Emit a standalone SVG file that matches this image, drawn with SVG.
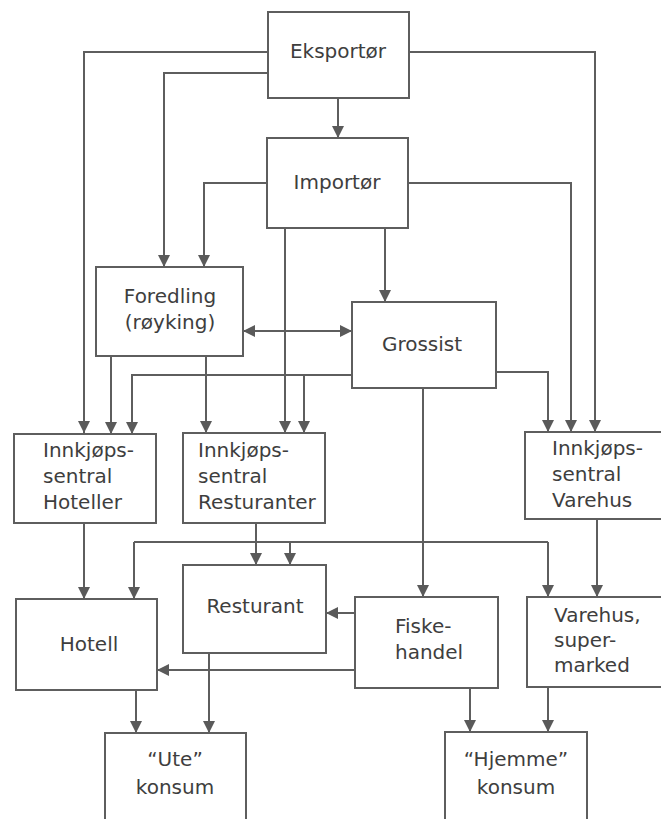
<svg xmlns="http://www.w3.org/2000/svg" width="661" height="819" viewBox="0 0 661 819">
<defs>
<style>
.box{fill:#fff;stroke:#5e5e5e;stroke-width:2}
.ln{fill:none;stroke:#5e5e5e;stroke-width:2}
.t{font-family:"DejaVu Sans",sans-serif;font-size:20px;fill:#3e3e3e}
.c{text-anchor:middle}
</style>
<marker id="ah" viewBox="0 0 12 12" refX="12" refY="6" markerWidth="12" markerHeight="12" markerUnits="userSpaceOnUse" orient="auto">
<path d="M0,0 L12,6 L0,12 z" fill="#5a5a5a"/>
</marker>
<marker id="as" viewBox="0 0 12 12" refX="0" refY="6" markerWidth="12" markerHeight="12" markerUnits="userSpaceOnUse" orient="auto">
<path d="M12,0 L0,6 L12,12 z" fill="#5a5a5a"/>
</marker>
</defs>
<rect width="661" height="819" fill="#fff"/>
<g id="connectors">
<path class="ln" d="M268,52 H84 V433" marker-end="url(#ah)"/>
<path class="ln" d="M268,73 H164 V267" marker-end="url(#ah)"/>
<path class="ln" d="M408,52 H595 V432" marker-end="url(#ah)"/>
<path class="ln" d="M338,98 V138" marker-end="url(#ah)"/>
<path class="ln" d="M267,183 H204 V267" marker-end="url(#ah)"/>
<path class="ln" d="M408,183 H571 V432" marker-end="url(#ah)"/>
<path class="ln" d="M285,228 V433" marker-end="url(#ah)"/>
<path class="ln" d="M385,228 V302" marker-end="url(#ah)"/>
<path class="ln" d="M243,331 H352" marker-start="url(#as)" marker-end="url(#ah)"/>
<path class="ln" d="M111,356 V434" marker-end="url(#ah)"/>
<path class="ln" d="M206,356 V433" marker-end="url(#ah)"/>
<path class="ln" d="M352,375 H132 V434" marker-end="url(#ah)"/>
<path class="ln" d="M304,375 V433" marker-end="url(#ah)"/>
<path class="ln" d="M496,372 H548 V432" marker-end="url(#ah)"/>
<path class="ln" d="M423,388 V597" marker-end="url(#ah)"/>
<path class="ln" d="M134,542 H548"/>
<path class="ln" d="M134,542 V599" marker-end="url(#ah)"/>
<path class="ln" d="M290,542 V565" marker-end="url(#ah)"/>
<path class="ln" d="M548,542 V597" marker-end="url(#ah)"/>
<path class="ln" d="M84,523 V599" marker-end="url(#ah)"/>
<path class="ln" d="M256,523 V565" marker-end="url(#ah)"/>
<path class="ln" d="M597,519 V597" marker-end="url(#ah)"/>
<path class="ln" d="M355,613 H326" marker-end="url(#ah)"/>
<path class="ln" d="M355,670 H157" marker-end="url(#ah)"/>
<path class="ln" d="M136,690 V733" marker-end="url(#ah)"/>
<path class="ln" d="M209,653 V733" marker-end="url(#ah)"/>
<path class="ln" d="M470,688 V732" marker-end="url(#ah)"/>
<path class="ln" d="M548,687 V732" marker-end="url(#ah)"/>
</g>
<g id="eksportor"><rect class="box" x="268" y="12" width="141" height="86"/><text class="t c" x="338" y="58">Eksportør</text></g>
<g id="importor"><rect class="box" x="267" y="138" width="141" height="90"/><text class="t c" x="337" y="189">Importør</text></g>
<g id="foredling"><rect class="box" x="96" y="267" width="147" height="89"/><text class="t c" x="170" y="303">Foredling</text><text class="t c" x="170" y="329">(røyking)</text></g>
<g id="grossist"><rect class="box" x="352" y="302" width="144" height="86"/><text class="t c" x="422" y="351">Grossist</text></g>
<g id="ik-hoteller"><rect class="box" x="14" y="434" width="142" height="89"/><text class="t" x="43" y="457">Innkjøps-</text><text class="t" x="43" y="483">sentral</text><text class="t" x="43" y="509">Hoteller</text></g>
<g id="ik-resturanter"><rect class="box" x="183" y="433" width="142" height="90"/><text class="t" x="198" y="457">Innkjøps-</text><text class="t" x="198" y="483">sentral</text><text class="t" x="198" y="509">Resturanter</text></g>
<g id="ik-varehus"><rect class="box" x="525" y="432" width="145" height="87"/><text class="t" x="552" y="455">Innkjøps-</text><text class="t" x="552" y="481">sentral</text><text class="t" x="552" y="507">Varehus</text></g>
<g id="hotell"><rect class="box" x="16" y="599" width="141" height="91"/><text class="t c" x="89" y="651">Hotell</text></g>
<g id="resturant"><rect class="box" x="183" y="565" width="143" height="88"/><text class="t c" x="255" y="613">Resturant</text></g>
<g id="fiskehandel"><rect class="box" x="355" y="597" width="143" height="91"/><text class="t" x="395" y="633">Fiske-</text><text class="t" x="395" y="659">handel</text></g>
<g id="varehus"><rect class="box" x="527" y="597" width="145" height="90"/><text class="t" x="554" y="622">Varehus,</text><text class="t" x="554" y="647">super-</text><text class="t" x="554" y="672">marked</text></g>
<g id="ute"><rect class="box" x="105" y="733" width="141" height="100"/><text class="t c" x="175" y="766">“Ute”</text><text class="t c" x="175" y="794">konsum</text></g>
<g id="hjemme"><rect class="box" x="445" y="732" width="142" height="100"/><text class="t c" x="516" y="766">“Hjemme”</text><text class="t c" x="516" y="794">konsum</text></g>
</svg>
